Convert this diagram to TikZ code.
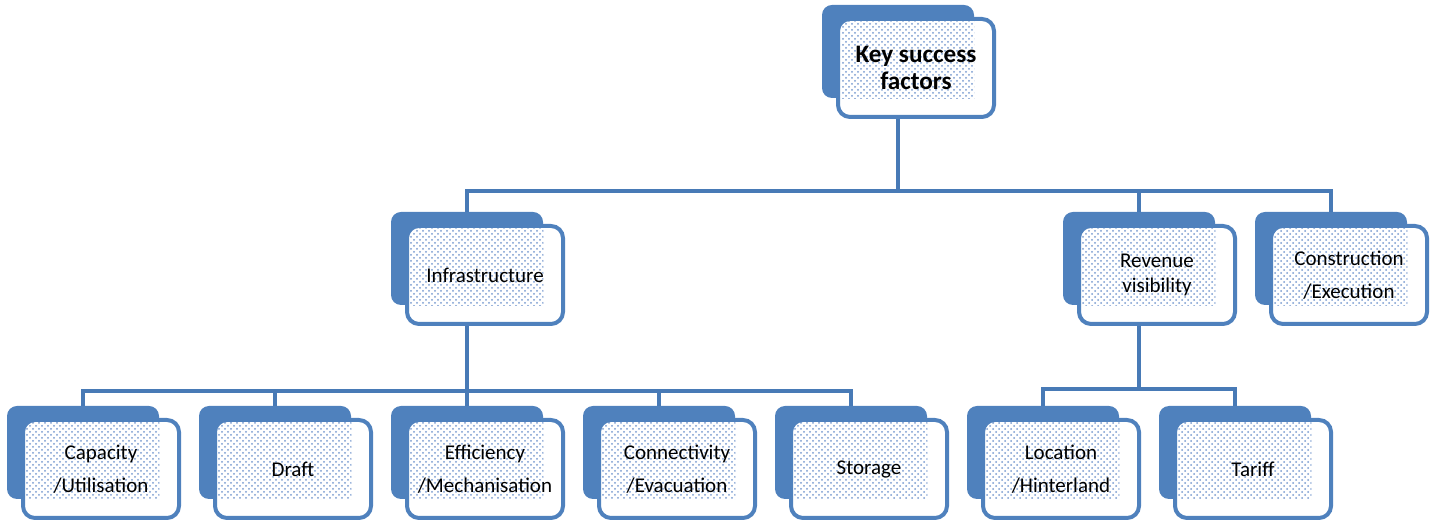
\documentclass[tikz,border=0pt]{standalone}
\usepackage{fontspec}
\setmainfont{Carlito}
\usetikzlibrary{patterns}
\definecolor{boxBlue}{RGB}{79,129,189}
\definecolor{lineBlue}{RGB}{72,122,182}
\definecolor{dotBlue}{RGB}{120,155,208}

\begin{document}
\begin{tikzpicture}[x=0.5pt,y=-0.5pt,
    backbox/.style={fill=boxBlue,rounded corners=5pt,minimum width=76pt,
                    minimum height=46.5pt,inner sep=0pt},
    factor/.style={draw=boxBlue,line width=2pt,fill=white,rounded corners=6pt,
                   minimum width=78pt,minimum height=49pt,inner sep=2pt,align=center,
                   font=\fontsize{10.5}{16.5}\selectfont,
                   path picture={\fill[sharp corners,pattern=crosshatch dots,pattern color=dotBlue]
                       ([shift={(3,3)}]path picture bounding box.north west) rectangle (#1.south east);}},
    link/.style={draw=lineBlue,line width=2.2pt}
]
\useasboundingbox (0,0) rectangle (1435,522);

% top level
\node[backbox] (ksfB) at (898,51.5) {};
\node[factor=ksfB,font=\bfseries\fontsize{12.6}{13.6}\selectfont] (ksf)
    at ([shift={(18,16.5)}]ksfB.center) {Key success\\factors};

% second level
\node[backbox] (infraB) at (467,258.5) {};
\node[factor=infraB] (infra) at ([shift={(18,16.5)}]infraB.center) {Infrastructure};
\node[backbox] (revB) at (1139,258.5) {};
\node[factor=revB,font=\fontsize{10.5}{12.5}\selectfont] (rev)
    at ([shift={(18,16.5)}]revB.center) {Revenue\\visibility};
\node[backbox] (consB) at (1331,258.5) {};
\node[factor=consB] (cons) at ([shift={(18,16.5)}]consB.center) {Construction\\/Execution};

% third level
\node[backbox] (capB) at (83,452.5) {};
\node[factor=capB] (cap) at ([shift={(18,16.5)}]capB.center) {Capacity\\/Utilisation};
\node[backbox] (draftB) at (275,452.5) {};
\node[factor=draftB] (draft) at ([shift={(18,16.5)}]draftB.center) {Draft};
\node[backbox] (effB) at (467,452.5) {};
\node[factor=effB] (eff) at ([shift={(18,16.5)}]effB.center) {Efficiency\\/Mechanisation};
\node[backbox] (connB) at (659,452.5) {};
\node[factor=connB] (conn) at ([shift={(18,16.5)}]connB.center) {Connectivity\\/Evacuation};
\node[backbox] (storB) at (851,452.5) {};
\node[factor=storB] (stor) at ([shift={(18,16.5)}]storB.center) {Storage};
\node[backbox] (locB) at (1043,452.5) {};
\node[factor=locB] (loc) at ([shift={(18,16.5)}]locB.center) {Location\\/Hinterland};
\node[backbox] (tarB) at (1235,452.5) {};
\node[factor=tarB] (tar) at ([shift={(18,16.5)}]tarB.center) {Tariff};

% connectors
\draw[link] (ksfB |- ksf.south) -- ++(0,72) coordinate (topBar);
\foreach \c in {infraB,revB,consB}
    \draw[link] (topBar) -| (\c.north);
\draw[link] (infraB |- infra.south) -- ++(0,65) coordinate (infraBar);
\foreach \c in {capB,draftB,effB,connB,storB}
    \draw[link] (infraBar) -| (\c.north);
\draw[link] (revB |- rev.south) -- ++(0,63) coordinate (revBar);
\foreach \c in {locB,tarB}
    \draw[link] (revBar) -| (\c.north);
\end{tikzpicture}
\end{document}
